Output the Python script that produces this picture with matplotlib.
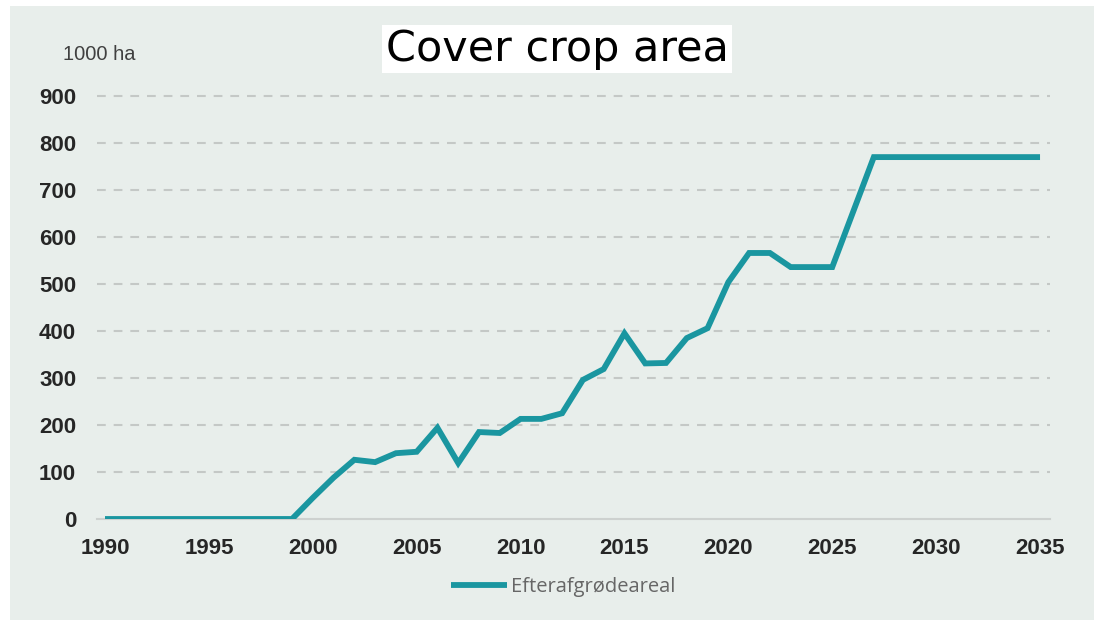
import matplotlib
matplotlib.use("Agg")
import matplotlib.pyplot as plt
from matplotlib.patches import Rectangle

# Cover crop area, 1000 ha, by year
years = list(range(1990, 2036))
area = [0, 0, 0, 0, 0, 0, 0, 0, 0, 0,          # 1990-1999
        45, 88, 126, 121, 140, 143, 194, 119, 185, 183,   # 2000-2009
        213, 213, 225, 296, 319, 395, 331, 332, 385, 406,  # 2010-2019
        504, 566, 566, 536, 536, 536, 653, 770, 770, 770,  # 2020-2029
        770, 770, 770, 770, 770, 770]                      # 2030-2035

x_ticks = [1990, 1995, 2000, 2005, 2010, 2015, 2020, 2025, 2030, 2035]
y_ticks = [0, 100, 200, 300, 400, 500, 600, 700, 800, 900]

title = "Cover crop area"
unit_label = "1000 ha"
series_name = "Efterafgrødeareal"

W, H = 1094, 620
bg = "#e8eeeb"
teal = "#1a96a0"

fig = plt.figure(figsize=(W / 100, H / 100), dpi=100, facecolor="white")
fig.patches.append(Rectangle((10 / W, 0), 1 - 10 / W, 1 - 6 / H,
                             transform=fig.transFigure, facecolor=bg,
                             edgecolor="none", zorder=-10))

ax = fig.add_axes([97 / W, 1 - 519 / H, (1050 - 97) / W, (519 - 96) / H])
ax.set_zorder(2)
ax.set_facecolor("none")
ax.plot(years, area, color=teal, lw=4.2, solid_joinstyle="miter",
        solid_capstyle="butt", label=series_name, zorder=3)

ax.set_xlim(1989.615, 2035.48)
ax.set_ylim(0, 900)
ax.set_xticks(x_ticks)
ax.set_yticks(y_ticks)

for v in y_ticks[1:]:
    ax.axhline(v, color="#c4c8c6", lw=1.5, dashes=(4.2, 3.8), zorder=1,
               clip_on=False)

for s in ["top", "right", "left"]:
    ax.spines[s].set_visible(False)
ax.spines["bottom"].set_color("#cdd1cf")
ax.spines["bottom"].set_linewidth(1.5)

ax.tick_params(axis="both", length=0, labelsize=16, labelcolor="#262626")
ax.tick_params(axis="y", pad=15)
ax.tick_params(axis="x", pad=14)
for lab in ax.get_xticklabels() + ax.get_yticklabels():
    lab.set_fontfamily("Liberation Sans")
    lab.set_fontweight("bold")

fig.text(63 / W, 1 - 55 / H, unit_label, fontsize=14.5, color="#404040",
         family="Liberation Sans", ha="left", va="center")

fig.text(557 / W, 1 - 49 / H, title, fontsize=31, color="black",
         family="DejaVu Sans", ha="center", va="center",
         bbox=dict(boxstyle="square,pad=0.08", facecolor="white",
                   edgecolor="none"))

fig.legend(loc="center", bbox_to_anchor=(563 / W, 1 - 587 / H), frameon=False,
           prop=dict(family="Open Sans", size=14.5), labelcolor="#666666",
           handlelength=2.8, handletextpad=0.15)

fig.savefig("out.png", dpi=100, facecolor=fig.get_facecolor())
